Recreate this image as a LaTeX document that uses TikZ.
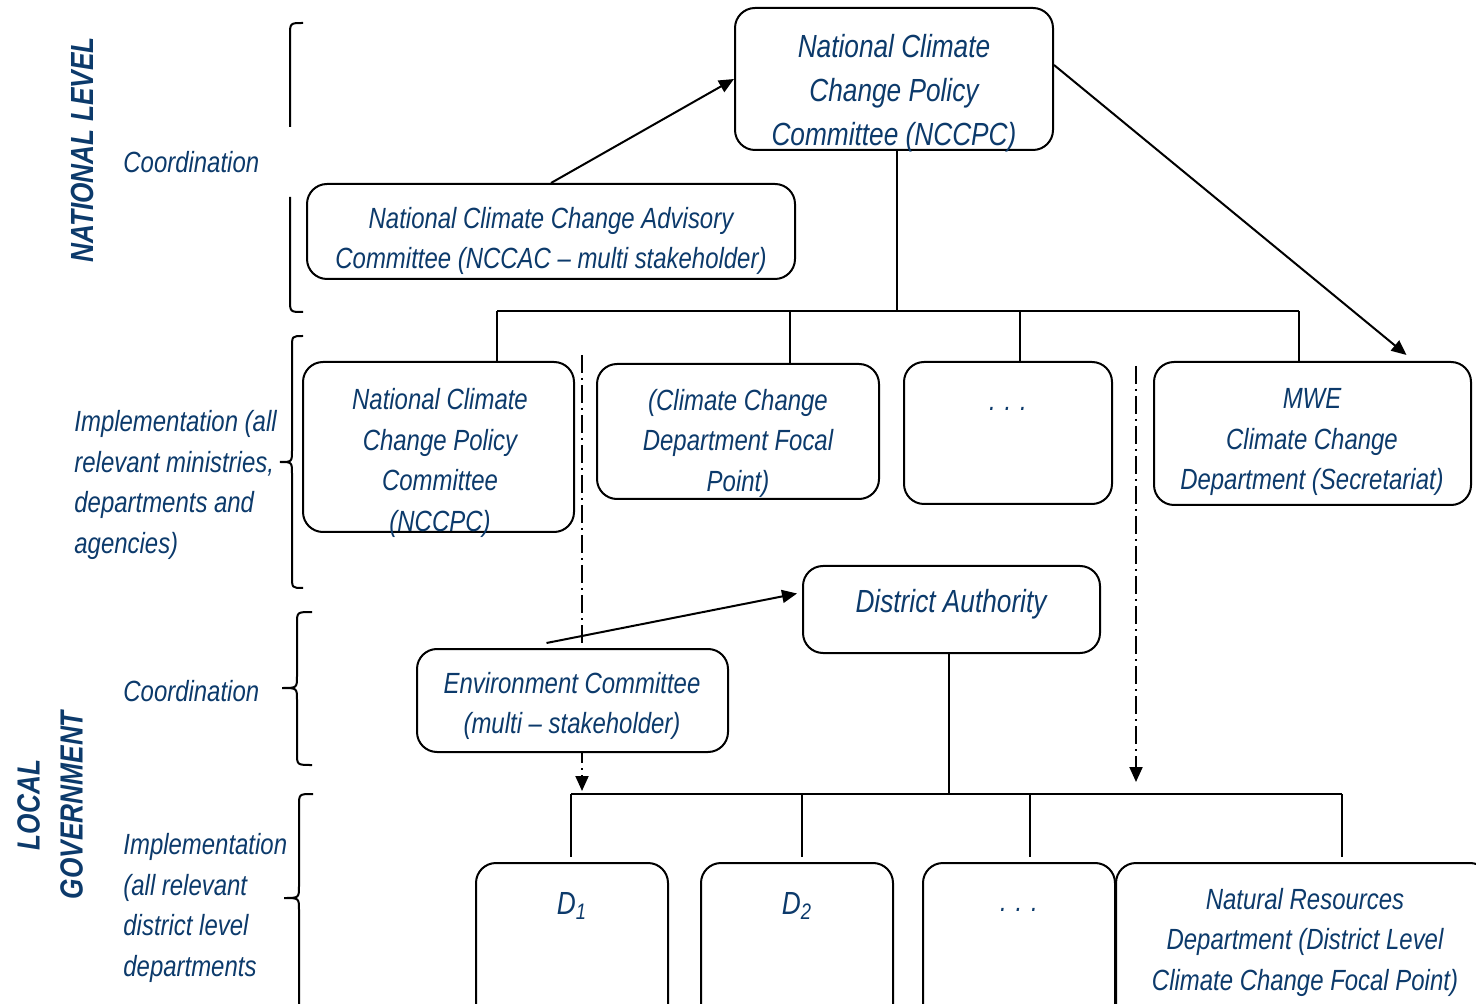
\documentclass[tikz,border=0pt]{standalone}
\usepackage{fontspec}
\setmainfont{Liberation Sans}[FakeStretch=0.82]
\usetikzlibrary{arrows.meta,calc}
\definecolor{tblue}{RGB}{12,58,107}
\begin{document}
\begin{tikzpicture}[x=0.5pt,y=-0.5pt,
  box/.style={draw,line width=1pt,rounded corners=10pt,fill=white,inner sep=0pt},
  txt/.style={text=tblue,align=center,inner sep=0pt,font=\fontsize{14.6pt}{20.25pt}\selectfont\itshape},
  bigtxt/.style={txt,font=\fontsize{16pt}{22pt}\selectfont\itshape},
  ltxt/.style={txt,align=left,anchor=west},
  big/.style={text=tblue,align=center,inner sep=0pt,rotate=90,font=\fontsize{16pt}{21.5pt}\selectfont\bfseries\itshape},
  conn/.style={line width=1pt},
  arr/.style={line width=1pt,-{Triangle[length=7.5pt,width=6.5pt]}},
  dd/.style={line width=1pt,dash pattern=on 9pt off 2.5pt on 1pt off 2.5pt,-{Triangle[length=7.5pt,width=6.5pt]}},
  brace/.style={line width=1pt}]
\useasboundingbox (0,0) rectangle (1476,1004);
\clip (0,0) rectangle (1476,1004);

% dash-dot connectors (behind boxes)
\coordinate (dd1s) at (582,355);
\coordinate (dd2s) at (1136,366);
\coordinate (bus2) at (948,794);
\draw[dd] (dd1s) -- ($(dd1s |- bus2)+(0,-3)$);
\draw[dd] (dd2s) -- ($(dd2s |- bus2)+(0,-12)$);

% boxes
\node[box,minimum width=159pt,minimum height=71pt] (nccpc) at (894,79) {};
\node[box,minimum width=244pt,minimum height=47.5pt] (nccac) at (551,231.5) {};
\node[box,minimum width=135.5pt,minimum height=85pt] (bA) at (438.5,447) {};
\node[box,minimum width=141pt,minimum height=67.5pt] (bB) at (738,431.5) {};
\node[box,minimum width=104pt,minimum height=71pt] (bC) at (1008,433) {};
\node[box,minimum width=158.5pt,minimum height=71.5pt] (bD) at (1312.5,433.5) {};
\node[box,minimum width=148.5pt,minimum height=43.5pt] (da) at (951.5,609.5) {};
\node[box,minimum width=155.5pt,minimum height=51.5pt] (env) at (572.5,700.5) {};
\node[box,minimum width=96pt,minimum height=90pt] (d1) at (572,953) {};
\node[box,minimum width=96pt,minimum height=90pt] (d2) at (797,953) {};
\node[box,minimum width=96pt,minimum height=90pt] (d3) at (1019,953) {};
\node[box,minimum width=187pt,minimum height=90pt] (nr) at (1303,953) {};

% box texts
\node[bigtxt] (tnccpc) at (894,93) {National Climate\\Change Policy\\Committee (NCCPC)};
\node[txt] (tnccac) at (551,241) {National Climate Change Advisory\\Committee (NCCAC – multi stakeholder)};
\node[txt] (tA) at (440,463) {National Climate\\Change Policy\\Committee\\(NCCPC)};
\node[txt] (tB) at (738,443) {(Climate Change\\Department Focal\\Point)};
\node[txt] (tC) at (1008,409) {. . .};
\node[txt] (tD) at (1312,442) {MWE\\Climate Change\\Department (Secretariat)};
\node[bigtxt] (tda) at (951,604) {District Authority};
\node[txt] (tenv) at (572,706) {Environment Committee\\(multi – stakeholder)};
\node[bigtxt] (td1) at (572,906) {D\textsubscript{1}};
\node[bigtxt] (td2) at (797,906) {D\textsubscript{2}};
\node[txt] (td3) at (1019,910) {. . .};
\node[txt] (tnr) at (1305,942) {Natural Resources\\Department (District Level\\Climate Change Focal Point)};

% left labels
\node[big] (natl) at (82,150) {NATIONAL LEVEL};
\node[big] (locl) at (50,805) {LOCAL\\GOVERNMENT};
\node[ltxt] (coord1) at (123,162) {Coordination};
\node[ltxt] (impl1) at (74,485) {Implementation (all\\relevant ministries,\\departments and\\agencies)};
\node[ltxt] (coord2) at (123,691) {Coordination};
\node[ltxt] (impl2) at (123,908) {Implementation\\(all relevant\\district level\\departments};

% braces
\draw[brace] (303,23) .. controls (290,23) .. (290,36) -- (290,127);
\draw[brace] (290,197) -- (290,299) .. controls (290,312) .. (303,312);
\draw[brace] (303,336) .. controls (292,336) .. (292,348) -- (292,450) .. controls (292,462) .. (280,462) .. controls (292,462) .. (292,474) -- (292,576) .. controls (292,588) .. (303,588);
\draw[brace] (312,612) .. controls (297,612) .. (297,624) -- (297,676) .. controls (297,688) .. (282,688) .. controls (297,688) .. (297,700) -- (297,753) .. controls (297,765) .. (312,765);
\draw[brace] (313,794) .. controls (299,794) .. (299,806) -- (299,886) .. controls (299,898) .. (284,898) .. controls (299,898) .. (299,910) -- (299,1000) .. controls (299,1012) .. (313,1012);

% national tree
\coordinate (bus1) at (897,311);
\coordinate (s1) at ($(nccpc.south)+(3,0)$);
\draw[conn] (s1) -- (s1 |- bus1);
\coordinate (jA) at (497,311);
\coordinate (jB) at (790,311);
\coordinate (jC) at (1020,311);
\coordinate (jD) at (1299,311);
\draw[conn] (jA) -- (jD);
\draw[conn] (jA) -- (jA |- bA.north);
\draw[conn] (jB) -- (jB |- bB.north);
\draw[conn] (jC) -- (jC |- bC.north);
\draw[conn] (jD) -- (jD |- bD.north);
\draw[arr] (nccac.north) -- (nccpc.west);
\draw[arr] ($(nccpc.east)+(0,-14)$) -- ($(bD.north)+(94,-6)$);

% local tree
\draw[arr] ($(env.north)+(-26,-5)$) -- ($(da.west)+(-5,-16)$);
\coordinate (s2) at ($(da.south)+(-3,0)$);
\draw[conn] (s2) -- (s2 |- bus2);
\coordinate (k1) at (571,794);
\coordinate (k2) at (802,794);
\coordinate (k3) at (1030,794);
\coordinate (k4) at (1342,794);
\draw[conn] (k1) -- (k4);
\draw[conn] (k1) -- ($(k1 |- d1.north)+(0,-5)$);
\draw[conn] (k2) -- ($(k2 |- d2.north)+(0,-5)$);
\draw[conn] (k3) -- ($(k3 |- d3.north)+(0,-5)$);
\draw[conn] (k4) -- ($(k4 |- nr.north)+(0,-5)$);
\end{tikzpicture}
\end{document}
